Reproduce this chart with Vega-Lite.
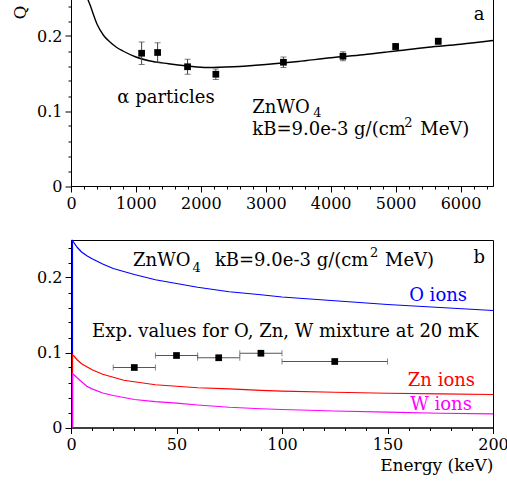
{
  "$schema": "https://vega.github.io/schema/vega-lite/v6.json",
  "autosize": {"type": "none"},
  "padding": {"left": 71, "top": -1.5, "right": 436, "bottom": 483.5},
  "background": "white",
  "spacing": 53.5,
  "bounds": "flush",
  "datasets": {
    "fit": [
      {"E": 200, "Q": 0.275}, {"E": 250, "Q": 0.252}, {"E": 300, "Q": 0.240}, {"E": 400, "Q": 0.216},
      {"E": 500, "Q": 0.201}, {"E": 600, "Q": 0.192}, {"E": 700, "Q": 0.185}, {"E": 800, "Q": 0.180},
      {"E": 1000, "Q": 0.172}, {"E": 1200, "Q": 0.167}, {"E": 1500, "Q": 0.163}, {"E": 1800, "Q": 0.160},
      {"E": 2100, "Q": 0.158}, {"E": 2500, "Q": 0.159}, {"E": 3000, "Q": 0.162}, {"E": 3500, "Q": 0.166},
      {"E": 4000, "Q": 0.171}, {"E": 4500, "Q": 0.175}, {"E": 5000, "Q": 0.180}, {"E": 5500, "Q": 0.185},
      {"E": 6000, "Q": 0.189}, {"E": 6500, "Q": 0.194}
    ],
    "alpha": [
      {"E": 1088, "Q": 0.177, "err": 0.015},
      {"E": 1334, "Q": 0.178, "err": 0.013},
      {"E": 1795, "Q": 0.159, "err": 0.010},
      {"E": 2231, "Q": 0.149, "err": 0.007},
      {"E": 3272, "Q": 0.165, "err": 0.007},
      {"E": 4189, "Q": 0.173, "err": 0.006},
      {"E": 5000, "Q": 0.186, "err": 0.004},
      {"E": 5657, "Q": 0.193, "err": 0.004}
    ],
    "txtA": [
      {"E": 6205, "Q": 0.2213, "t": "a"},
      {"E": 713, "Q": 0.1107, "t": "α particles"},
      {"E": 2793, "Q": 0.0973, "t": "ZnWO"},
      {"E": 2793, "Q": 0.068, "t": "kB=9.0e-3 g/(cm"},
      {"E": 5380, "Q": 0.068, "t": "MeV)"}
    ],
    "txtAsmall": [
      {"E": 3730, "Q": 0.0915, "t": "4"},
      {"E": 5134, "Q": 0.0787, "t": "2"}
    ],
    "ionO": [
      {"i": 0, "E": 0.7, "Q": 0}, {"i": 1, "E": 0.7, "Q": 0.249}, {"i": 2, "E": 1.5, "Q": 0.246},
      {"i": 3, "E": 3, "Q": 0.240}, {"i": 4, "E": 5, "Q": 0.234}, {"i": 5, "E": 7.5, "Q": 0.229},
      {"i": 6, "E": 10, "Q": 0.225}, {"i": 7, "E": 15, "Q": 0.218}, {"i": 8, "E": 20, "Q": 0.212},
      {"i": 9, "E": 25, "Q": 0.208}, {"i": 10, "E": 30, "Q": 0.204}, {"i": 11, "E": 40, "Q": 0.197},
      {"i": 12, "E": 50, "Q": 0.192}, {"i": 13, "E": 60, "Q": 0.187}, {"i": 14, "E": 75, "Q": 0.181},
      {"i": 15, "E": 90, "Q": 0.177}, {"i": 16, "E": 100, "Q": 0.174}, {"i": 17, "E": 125, "Q": 0.169},
      {"i": 18, "E": 150, "Q": 0.164}, {"i": 19, "E": 175, "Q": 0.160}, {"i": 20, "E": 200, "Q": 0.156}
    ],
    "ionZn": [
      {"i": 0, "E": 0.7, "Q": 0}, {"i": 1, "E": 0.7, "Q": 0.097}, {"i": 2, "E": 1.5, "Q": 0.095},
      {"i": 3, "E": 3, "Q": 0.090}, {"i": 4, "E": 5, "Q": 0.085}, {"i": 5, "E": 7.5, "Q": 0.081},
      {"i": 6, "E": 10, "Q": 0.077}, {"i": 7, "E": 15, "Q": 0.071}, {"i": 8, "E": 20, "Q": 0.067},
      {"i": 9, "E": 25, "Q": 0.063}, {"i": 10, "E": 30, "Q": 0.061}, {"i": 11, "E": 40, "Q": 0.057},
      {"i": 12, "E": 50, "Q": 0.055}, {"i": 13, "E": 60, "Q": 0.053}, {"i": 14, "E": 75, "Q": 0.0515},
      {"i": 15, "E": 90, "Q": 0.0495}, {"i": 16, "E": 100, "Q": 0.0485}, {"i": 17, "E": 125, "Q": 0.047},
      {"i": 18, "E": 150, "Q": 0.0457}, {"i": 19, "E": 175, "Q": 0.0448}, {"i": 20, "E": 200, "Q": 0.044}
    ],
    "ionW": [
      {"i": 0, "E": 0.7, "Q": 0}, {"i": 1, "E": 0.7, "Q": 0.072}, {"i": 2, "E": 1.5, "Q": 0.070},
      {"i": 3, "E": 3, "Q": 0.066}, {"i": 4, "E": 5, "Q": 0.061}, {"i": 5, "E": 7.5, "Q": 0.055},
      {"i": 6, "E": 10, "Q": 0.0515}, {"i": 7, "E": 15, "Q": 0.046}, {"i": 8, "E": 20, "Q": 0.0427},
      {"i": 9, "E": 25, "Q": 0.040}, {"i": 10, "E": 30, "Q": 0.0373}, {"i": 11, "E": 40, "Q": 0.0345},
      {"i": 12, "E": 50, "Q": 0.0324}, {"i": 13, "E": 60, "Q": 0.030}, {"i": 14, "E": 75, "Q": 0.027},
      {"i": 15, "E": 90, "Q": 0.025}, {"i": 16, "E": 100, "Q": 0.024}, {"i": 17, "E": 125, "Q": 0.022},
      {"i": 18, "E": 150, "Q": 0.0204}, {"i": 19, "E": 175, "Q": 0.019}, {"i": 20, "E": 200, "Q": 0.0182}
    ],
    "exp": [
      {"E": 30, "Q": 0.080, "dE": 10},
      {"E": 50, "Q": 0.096, "dE": 10},
      {"E": 70, "Q": 0.093, "dE": 10},
      {"E": 90, "Q": 0.099, "dE": 10},
      {"E": 125, "Q": 0.088, "dE": 25}
    ],
    "txtB": [
      {"E": 29.4, "Q": 0.216, "t": "ZnWO"},
      {"E": 68.2, "Q": 0.216, "t": "kB=9.0e-3 g/(cm"},
      {"E": 148.8, "Q": 0.216, "t": "MeV)"},
      {"E": 190.8, "Q": 0.22, "t": "b"},
      {"E": 10, "Q": 0.1204, "t": "Exp. values for O, Zn, W mixture at 20 mK"}
    ],
    "txtBsmall": [
      {"E": 57.6, "Q": 0.208, "t": "4"},
      {"E": 141.7, "Q": 0.2267, "t": "2"}
    ],
    "ionLabels": [
      {"E": 187.7, "Q": 0.1693, "t": "O ions", "s": "O"},
      {"E": 191.5, "Q": 0.0551, "t": "Zn ions", "s": "Zn"},
      {"E": 190, "Q": 0.0227, "t": "W ions", "s": "W"}
    ]
  },
  "vconcat": [
    {
      "width": 422,
      "height": 187.5,
      "encoding": {
        "x": {
          "field": "E", "type": "quantitative",
          "scale": {"domain": [0, 6500], "nice": false, "zero": false},
          "axis": {
            "title": null,
            "values": [0,200,400,600,800,1000,1200,1400,1600,1800,2000,2200,2400,2600,2800,3000,3200,3400,3600,3800,4000,4200,4400,4600,4800,5000,5200,5400,5600,5800,6000,6200,6400],
            "format": "d",
            "labelExpr": "datum.value % 1000 === 0 ? datum.label : ''",
            "tickSize": {"condition": {"test": "datum.value % 1000 === 0", "value": 6}, "value": 3}
          }
        },
        "y": {
          "field": "Q", "type": "quantitative",
          "scale": {"domain": [0, 0.25], "nice": false, "zero": false},
          "axis": {
            "title": "Q",
            "titleAnchor": "end",
            "titleAlign": "right",
            "titleBaseline": "alphabetic",
            "titleAngle": -90,
            "titleX": -46,
            "titleY": 6.5,
            "values": [0,0.02,0.04,0.06,0.08,0.1,0.12,0.14,0.16,0.18,0.2,0.22,0.24],
            "format": "~g",
            "labelExpr": "abs(datum.value*10-round(datum.value*10)) < 0.001 ? datum.label : ''",
            "tickSize": {"condition": {"test": "abs(datum.value*10-round(datum.value*10)) < 0.001", "value": 6}, "value": 3}
          }
        }
      },
      "layer": [
        {"data": {"name": "fit"}, "mark": {"type": "line", "color": "black", "strokeWidth": 1.4, "interpolate": "monotone", "clip": true}},
        {"data": {"name": "alpha"}, "mark": {"type": "errorbar", "ticks": {"size": 6, "color": "#444"}, "rule": {"color": "#444"}}, "encoding": {"yError": {"field": "err"}}},
        {"data": {"name": "alpha"}, "mark": {"type": "square", "size": 45, "color": "black", "filled": true, "opacity": 1}},
        {"data": {"name": "txtA"}, "mark": {"type": "text", "align": "left", "baseline": "alphabetic", "font": "DejaVu Serif", "fontSize": 18, "color": "black"}, "encoding": {"text": {"field": "t"}}},
        {"data": {"name": "txtAsmall"}, "mark": {"type": "text", "align": "left", "baseline": "alphabetic", "font": "DejaVu Serif", "fontSize": 13, "color": "black"}, "encoding": {"text": {"field": "t"}}}
      ]
    },
    {
      "width": 422,
      "height": 187.5,
      "encoding": {
        "x": {
          "field": "E", "type": "quantitative",
          "scale": {"domain": [0, 200], "nice": false, "zero": false},
          "axis": {
            "title": "Energy (keV)",
            "titleAnchor": "end",
            "titleAlign": "right",
            "titleBaseline": "alphabetic",
            "titleX": 422,
            "titleY": 43,
            "values": [0,10,20,30,40,50,60,70,80,90,100,110,120,130,140,150,160,170,180,190,200],
            "format": "d",
            "labelExpr": "datum.value % 50 === 0 ? datum.label : ''",
            "tickSize": {"condition": {"test": "datum.value % 50 === 0", "value": 6}, "value": 3}
          }
        },
        "y": {
          "field": "Q", "type": "quantitative",
          "scale": {"domain": [0, 0.25], "nice": false, "zero": false},
          "axis": {
            "title": null,
            "values": [0,0.02,0.04,0.06,0.08,0.1,0.12,0.14,0.16,0.18,0.2,0.22,0.24],
            "format": "~g",
            "labelExpr": "abs(datum.value*10-round(datum.value*10)) < 0.001 ? datum.label : ''",
            "tickSize": {"condition": {"test": "abs(datum.value*10-round(datum.value*10)) < 0.001", "value": 6}, "value": 3}
          }
        }
      },
      "layer": [
        {"data": {"name": "ionO"}, "mark": {"type": "line", "color": "#0000ff", "strokeWidth": 1.2}, "encoding": {"order": {"field": "i", "type": "quantitative"}}},
        {"data": {"name": "ionZn"}, "mark": {"type": "line", "color": "#ff0000", "strokeWidth": 1.2}, "encoding": {"order": {"field": "i", "type": "quantitative"}}},
        {"data": {"name": "ionW"}, "mark": {"type": "line", "color": "#ff00ff", "strokeWidth": 1.2}, "encoding": {"order": {"field": "i", "type": "quantitative"}}},
        {"data": {"name": "exp"}, "mark": {"type": "errorbar", "ticks": {"size": 6, "color": "#555"}, "rule": {"color": "#555", "strokeWidth": 1.2}}, "encoding": {"xError": {"field": "dE"}}},
        {"data": {"name": "exp"}, "mark": {"type": "square", "size": 45, "color": "black", "filled": true, "opacity": 1}},
        {"data": {"name": "txtB"}, "mark": {"type": "text", "align": "left", "baseline": "alphabetic", "font": "DejaVu Serif", "fontSize": 18, "color": "black"}, "encoding": {"text": {"field": "t"}}},
        {"data": {"name": "txtBsmall"}, "mark": {"type": "text", "align": "left", "baseline": "alphabetic", "font": "DejaVu Serif", "fontSize": 13, "color": "black"}, "encoding": {"text": {"field": "t"}}},
        {"data": {"name": "ionLabels"}, "mark": {"type": "text", "align": "right", "baseline": "alphabetic", "font": "DejaVu Serif", "fontSize": 18}, "encoding": {"text": {"field": "t"}, "color": {"field": "s", "type": "nominal", "scale": {"domain": ["O", "Zn", "W"], "range": ["#0000ff", "#ff0000", "#ff00ff"]}, "legend": null}}}
      ]
    }
  ],
  "config": {
    "view": {"stroke": "black", "strokeWidth": 1},
    "axis": {
      "grid": false,
      "domainColor": "black",
      "domainWidth": 1,
      "tickColor": "black",
      "tickWidth": 1,
      "labelFont": "DejaVu Serif",
      "labelFontSize": 16,
      "labelColor": "black",
      "labelPadding": 3,
      "labelFlush": false,
      "labelOverlap": false,
      "titleFont": "DejaVu Serif",
      "titleFontSize": 17,
      "titleFontWeight": "normal",
      "titleColor": "black"
    }
  }
}
